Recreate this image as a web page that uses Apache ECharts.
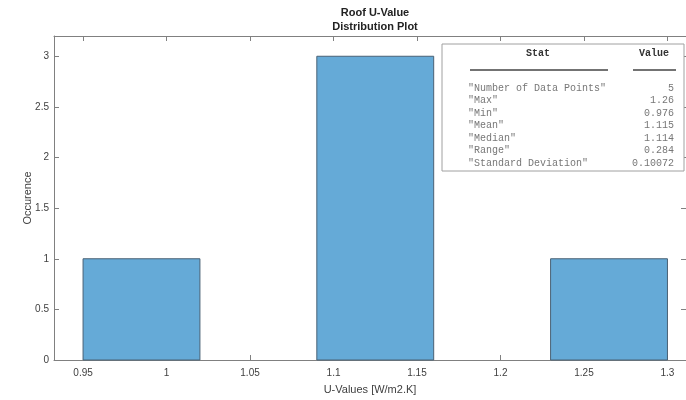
<!DOCTYPE html>
<html>
<head>
<meta charset="utf-8">
<script src="https://cdn.jsdelivr.net/npm/echarts@6/dist/echarts.min.js"></script>
<style>
  html, body { margin: 0; padding: 0; background: #fff; }
  #chart { width: 686px; height: 400px; }
</style>
</head>
<body>
<div id="chart"></div>
<script>
// histogram bins (U-value ranges) and how many points fall in each
const binStarts = [0.95, 1.02, 1.09, 1.16, 1.23];
const binEnds = [1.02, 1.09, 1.16, 1.23, 1.30];
const counts = [1, 0, 3, 0, 1];

const xTicks = [0.95, 1, 1.05, 1.1, 1.15, 1.2, 1.25, 1.3];
const yTicks = [0, 0.5, 1, 1.5, 2, 2.5, 3];

// summary table in the corner
const statNames = ['"Number of Data Points"', '"Max"', '"Min"', '"Mean"', '"Median"', '"Range"', '"Standard Deviation"'];
const statValues = ['5', '1.26', '0.976', '1.115', '1.114', '0.284', '0.10072'];

const chart = echarts.init(document.getElementById('chart'));

const axisColor = '#808080';
const labelColor = '#404040';
const mono = '"Liberation Mono", "DejaVu Sans Mono", monospace';
const xMin = 0.9326;
const xMax = 1.3111;

const histData = binStarts.map((s, i) => [s, binEnds[i], counts[i]]);

// stats box drawn as graphic elements
const box = { x: 442, y: 44, w: 242, h: 127 };
const tableGraphics = [
  {
    type: 'rect',
    shape: { x: box.x, y: box.y, width: box.w, height: box.h },
    style: { fill: '#fff', stroke: '#a0a0a0', lineWidth: 1 },
    z: 100,
  },
  {
    type: 'text', x: 538, y: 53, z: 101,
    style: { text: 'Stat', font: 'bold 10px ' + mono, fill: '#333', align: 'center', verticalAlign: 'middle' },
  },
  {
    type: 'text', x: 654, y: 53, z: 101,
    style: { text: 'Value', font: 'bold 10px ' + mono, fill: '#333', align: 'center', verticalAlign: 'middle' },
  },
  {
    type: 'line', z: 101,
    shape: { x1: 470, y1: 70, x2: 608, y2: 70 },
    style: { stroke: '#444', lineWidth: 1.5 },
  },
  {
    type: 'line', z: 101,
    shape: { x1: 633, y1: 70, x2: 676, y2: 70 },
    style: { stroke: '#444', lineWidth: 1.5 },
  },
];
statNames.forEach((name, i) => {
  const y = 88 + i * 12.5;
  tableGraphics.push({
    type: 'text', x: 468, y: y, z: 101,
    style: { text: name, font: '10px ' + mono, fill: '#777', align: 'left', verticalAlign: 'middle' },
  });
  tableGraphics.push({
    type: 'text', x: 674, y: y, z: 101,
    style: { text: statValues[i], font: '10px ' + mono, fill: '#777', align: 'right', verticalAlign: 'middle' },
  });
});

const option = {
  animation: false,
  textStyle: { fontFamily: '"Liberation Sans", Arial, sans-serif' },
  title: {
    text: 'Roof U-Value\nDistribution Plot',
    left: 370,
    top: 1,
    textAlign: 'center',
    textStyle: { fontSize: 11, fontWeight: 'bold', color: '#222', lineHeight: 14 },
  },
  grid: { left: 54, right: 0, top: 36, bottom: 36 },
  xAxis: [
    {
      type: 'value',
      min: xMin,
      max: xMax,
      name: 'U-Values [W/m2.K]',
      nameLocation: 'middle',
      nameGap: 24,
      nameTextStyle: { fontSize: 11, color: labelColor },
      axisLine: { show: true, lineStyle: { color: axisColor } },
      axisTick: { show: true, inside: true, length: 5, customValues: xTicks, lineStyle: { color: axisColor } },
      axisLabel: { fontSize: 10, color: labelColor, margin: 8, customValues: xTicks },
      splitLine: { show: false },
    },
    {
      type: 'value',
      position: 'top',
      min: xMin,
      max: xMax,
      axisLine: { show: true, onZero: false, lineStyle: { color: axisColor } },
      axisTick: { show: true, inside: true, length: 5, customValues: xTicks, lineStyle: { color: axisColor } },
      axisLabel: { show: false },
      splitLine: { show: false },
    },
  ],
  yAxis: [
    {
      type: 'value',
      min: 0,
      max: 3.2,
      name: 'Occurence',
      nameLocation: 'middle',
      nameGap: 21,
      nameMoveOverlap: false,
      nameRotate: 90,
      nameTextStyle: { fontSize: 11, color: labelColor },
      axisLine: { show: true, lineStyle: { color: axisColor } },
      axisTick: { show: true, inside: true, length: 5, customValues: yTicks, lineStyle: { color: axisColor } },
      axisLabel: { fontSize: 10, color: labelColor, margin: 5, customValues: yTicks },
      splitLine: { show: false },
    },
    {
      type: 'value',
      position: 'right',
      min: 0,
      max: 3.2,
      axisLine: { show: true, onZero: false, lineStyle: { color: axisColor } },
      axisTick: { show: true, inside: true, length: 5, customValues: yTicks, lineStyle: { color: axisColor } },
      axisLabel: { show: false },
      splitLine: { show: false },
    },
  ],
  series: [
    {
      type: 'custom',
      xAxisIndex: 0,
      yAxisIndex: 0,
      data: histData,
      encode: { x: [0, 1], y: 2 },
      renderItem: (params, api) => {
        if (!api.value(2)) return null; // empty bins draw nothing
        const p0 = api.coord([api.value(0), api.value(2)]);
        const p1 = api.coord([api.value(1), 0]);
        return {
          type: 'rect',
          shape: { x: p0[0], y: p0[1], width: p1[0] - p0[0], height: p1[1] - p0[1] },
          style: { fill: '#65aad7', stroke: '#4a6275', lineWidth: 1 },
        };
      },
    },
  ],
  graphic: tableGraphics,
};

chart.setOption(option);
</script>
</body>
</html>
